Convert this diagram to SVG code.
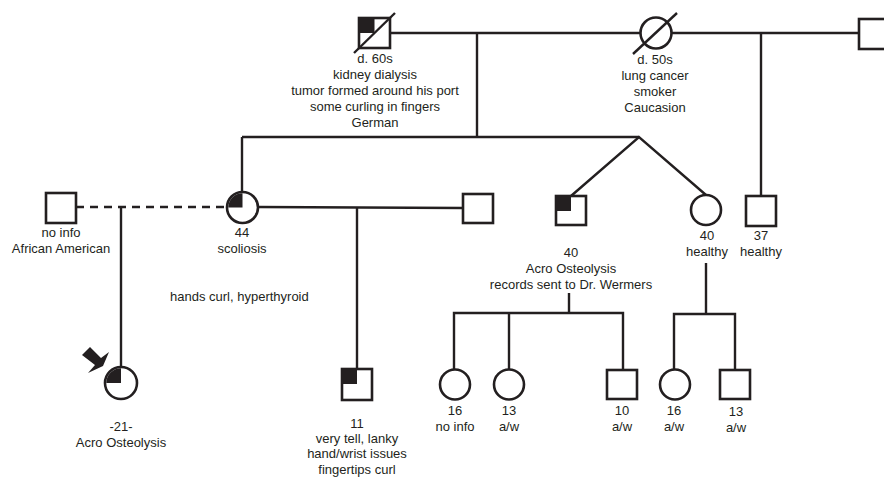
<svg xmlns="http://www.w3.org/2000/svg" width="884" height="478" viewBox="0 0 884 478">
  <style>
    .shape { fill: #ffffff; stroke: #231f20; stroke-width: 2.6; }
    .mark { fill: #231f20; stroke: none; }
    .line { fill: none; stroke: #231f20; stroke-width: 2.4; }
    .dash { fill: none; stroke: #231f20; stroke-width: 2.4; stroke-dasharray: 8 6; }
    .slash { fill: none; stroke: #231f20; stroke-width: 2.4; }
    text { font-family: "Liberation Sans", Arial, sans-serif; font-size: 13px; fill: #231f20; text-anchor: middle; }
  </style>
  <rect width="884" height="478" fill="#ffffff"/>

  <!-- connectors -->
  <g id="connectors">
    <!-- top couples -->
    <line class="line" x1="390" y1="33" x2="641" y2="33"/>
    <line class="line" x1="671" y1="33" x2="859" y2="33"/>
    <line class="line" x1="477" y1="33" x2="477" y2="137"/>
    <line class="line" x1="761" y1="33" x2="761" y2="196"/>
    <!-- sibship of generation II -->
    <line class="line" x1="242" y1="137" x2="639" y2="137"/>
    <line class="line" x1="242" y1="137" x2="242" y2="192"/>
    <!-- twins -->
    <polyline class="line" points="571,196 639,137 706,195"/>
    <!-- partners of the 44 year old woman -->
    <line class="dash" x1="76" y1="207" x2="227" y2="207"/>
    <line class="line" x1="121" y1="207" x2="121" y2="367"/>
    <line class="line" x1="258" y1="207" x2="463" y2="208"/>
    <line class="line" x1="357" y1="207" x2="357" y2="369"/>
    <!-- children of the 40 year old man -->
    <line class="line" x1="569" y1="293" x2="569" y2="313"/>
    <polyline class="line" points="454,369 454,313 623,313 623,370"/>
    <line class="line" x1="509" y1="313" x2="509" y2="369"/>
    <!-- children of the healthy 40 year old woman -->
    <line class="line" x1="706" y1="263" x2="706" y2="314"/>
    <polyline class="line" points="674,369 674,314 735,314 735,370"/>
  </g>

  <!-- generation I -->
  <g id="grandfather">
    <rect class="shape" x="359" y="18" width="31" height="30"/>
    <rect class="mark" x="360" y="19" width="14.5" height="14"/>
    <line class="slash" x1="354" y1="53" x2="395" y2="13"/>
    <text x="375" y="63">d. 60s</text>
    <text x="375" y="79">kidney dialysis</text>
    <text x="375" y="95">tumor formed around his port</text>
    <text x="375" y="111">some curling in fingers</text>
    <text x="375" y="127">German</text>
  </g>
  <g id="grandmother">
    <circle class="shape" cx="656" cy="33" r="15.5"/>
    <line class="slash" x1="633" y1="54" x2="677" y2="13"/>
    <text x="655" y="64">d. 50s</text>
    <text x="655" y="80">lung cancer</text>
    <text x="655" y="96">smoker</text>
    <text x="655" y="112">Caucasion</text>
  </g>
  <g id="second-husband">
    <rect class="shape" x="859" y="19" width="31" height="30"/>
  </g>

  <!-- generation II -->
  <g id="partner-no-info">
    <rect class="shape" x="46" y="193" width="30" height="30"/>
    <text x="61" y="237">no info</text>
    <text x="61" y="253">African American</text>
  </g>
  <g id="mother-44">
    <circle class="shape" cx="242.5" cy="207.5" r="15.5"/>
    <path class="mark" d="M242.5,207.5 L228.3,207.5 A14.2,14.2 0 0 1 242.5,193.3 Z"/>
    <text x="242" y="237">44</text>
    <text x="242" y="253">scoliosis</text>
    <text x="170" y="301" style="text-anchor:start">hands curl, hyperthyroid</text>
  </g>
  <g id="partner-right">
    <rect class="shape" x="463" y="194" width="30" height="29"/>
  </g>
  <g id="twin-brother-40">
    <rect class="shape" x="556" y="196" width="30" height="29"/>
    <rect class="mark" x="557" y="197" width="14" height="14"/>
    <text x="571" y="257">40</text>
    <text x="571" y="273">Acro Osteolysis</text>
    <text x="571" y="289">records sent to Dr. Wermers</text>
  </g>
  <g id="twin-sister-40">
    <circle class="shape" cx="706" cy="210" r="15"/>
    <text x="707" y="240">40</text>
    <text x="707" y="256">healthy</text>
  </g>
  <g id="brother-37">
    <rect class="shape" x="746" y="196" width="30" height="30"/>
    <text x="761" y="240">37</text>
    <text x="761" y="256">healthy</text>
  </g>

  <!-- generation III -->
  <g id="proband-21">
    <polygon class="mark" points="82,355 90,347 101,358 109,352 103,366 88,373 95,365"/>
    <circle class="shape" cx="121" cy="383" r="16"/>
    <path class="mark" d="M121,383 L106.3,383 A14.7,14.7 0 0 1 121,368.3 Z"/>
    <text x="121" y="431">-21-</text>
    <text x="121" y="447">Acro Osteolysis</text>
  </g>
  <g id="son-11">
    <rect class="shape" x="342" y="369" width="30" height="31"/>
    <rect class="mark" x="343" y="370" width="14" height="14"/>
    <text x="357" y="428">11</text>
    <text x="357" y="443">very tell, lanky</text>
    <text x="357" y="458">hand/wrist issues</text>
    <text x="357" y="473.5">fingertips curl</text>
  </g>
  <g id="daughter-16">
    <circle class="shape" cx="455" cy="384.5" r="15"/>
    <text x="455" y="415">16</text>
    <text x="455" y="431">no info</text>
  </g>
  <g id="daughter-13">
    <circle class="shape" cx="509" cy="384.5" r="15"/>
    <text x="509" y="415">13</text>
    <text x="509" y="431">a/w</text>
  </g>
  <g id="son-10">
    <rect class="shape" x="607" y="370" width="30" height="29"/>
    <text x="622" y="415">10</text>
    <text x="622" y="431">a/w</text>
  </g>
  <g id="niece-16">
    <circle class="shape" cx="675" cy="384.5" r="15"/>
    <text x="674" y="415">16</text>
    <text x="674" y="431">a/w</text>
  </g>
  <g id="nephew-13">
    <rect class="shape" x="720" y="370" width="30" height="29"/>
    <text x="736" y="416">13</text>
    <text x="736" y="432">a/w</text>
  </g>
</svg>
